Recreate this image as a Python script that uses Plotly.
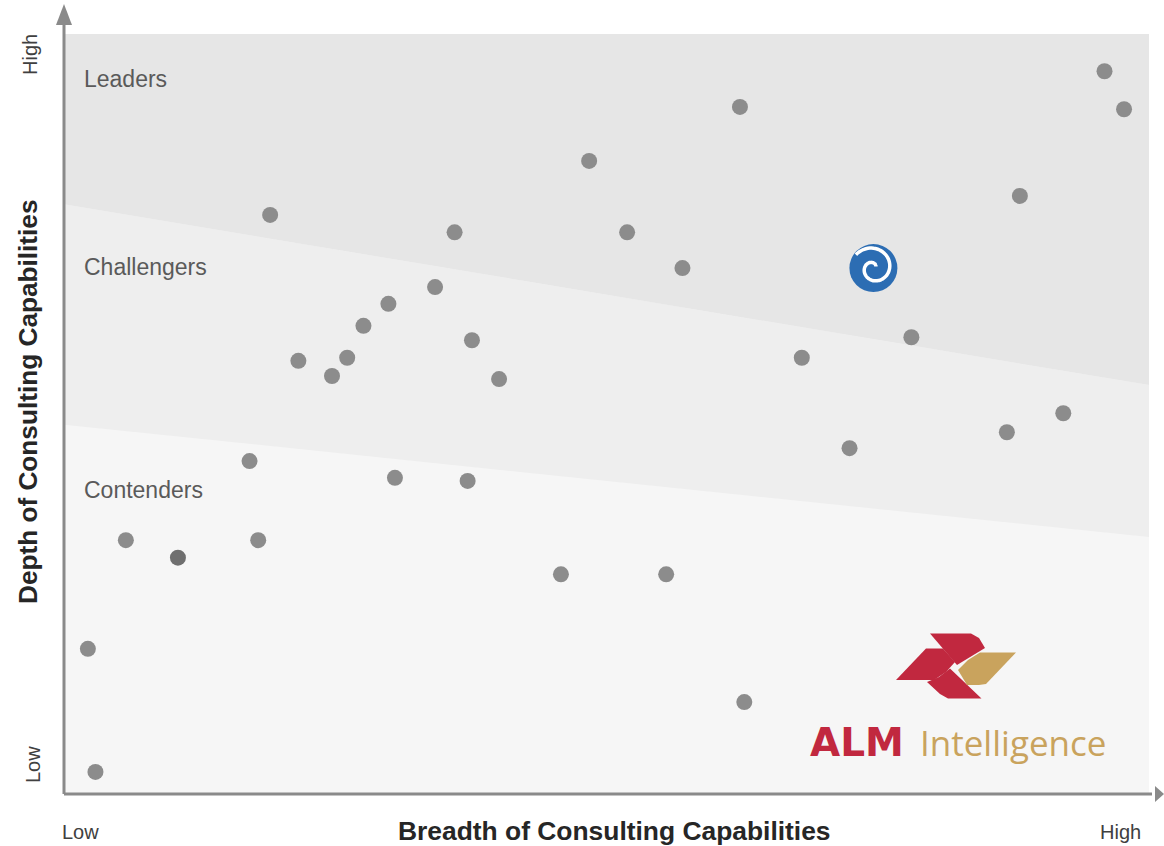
import numpy as np
import plotly.graph_objects as go

# ---- data (0-100 scale on both axes) ----
firm_x = [62.3, 95.9, 97.7, 48.4, 19.0, 36.0, 51.9, 57.0, 88.1, 34.2, 29.9, 27.6,
          37.6, 21.6, 26.1, 24.7, 40.1, 68.0, 78.1, 92.1, 86.9, 72.4, 17.1, 30.5,
          37.2, 5.7, 17.9, 45.8, 55.5, 2.2, 62.7, 2.9]
firm_y = [90.4, 95.1, 90.1, 83.3, 76.2, 73.9, 73.9, 69.2, 78.7, 66.7, 64.5, 61.6,
          59.7, 57.0, 57.4, 55.0, 54.6, 57.4, 60.1, 50.1, 47.6, 45.5, 43.8, 41.6,
          41.2, 33.4, 33.4, 28.9, 28.9, 19.1, 12.1, 2.9]
dark_x = [10.5]
dark_y = [31.1]
highlight_x = [74.6]
highlight_y = [69.2]

region_labels = ["Leaders", "Challengers", "Contenders"]
region_label_y = [94.1, 69.3, 40.0]
upper_boundary = [77.6, 53.8]   # y at x=0 and x=100
lower_boundary = [48.6, 33.8]

x_ticks = ["Low", "High"]
y_ticks = ["Low", "High"]
x_title = "Breadth of Consulting Capabilities"
y_title = "Depth of Consulting Capabilities"

# ---- geometry helpers ----
W, H = 1164, 846
L, R, T, B = 64, 15, 34, 52
PW, PH = W - L - R, H - T - B


def pp(x, y):
    """pixel -> paper"""
    return (x - L) / PW, (H - B - y) / PH


def path(points, close=True):
    s = ""
    for i, (x, y) in enumerate(points):
        px, py = pp(x, y)
        s += ("M" if i == 0 else "L") + f"{px:.5f},{py:.5f} "
    return s + ("Z" if close else "")


fig = go.Figure()

shapes = []
# background bands
shapes.append(dict(type="path", xref="x", yref="y", layer="below", line_width=0,
                   fillcolor="#eeeeee",
                   path=f"M0,{lower_boundary[0]} L100,{lower_boundary[1]} L100,{upper_boundary[1]} L0,{upper_boundary[0]} Z"))
shapes.append(dict(type="path", xref="x", yref="y", layer="below", line_width=0,
                   fillcolor="#e6e6e6",
                   path=f"M0,{upper_boundary[0]} L100,{upper_boundary[1]} L100,100 L0,100 Z"))

axis_col = "#8a8a8a"
# axes with arrows
shapes.append(dict(type="path", xref="paper", yref="paper", line=dict(color=axis_col, width=3),
                   path=path([(64, 794), (64, 20)], close=False)))
shapes.append(dict(type="path", xref="paper", yref="paper", line_width=0, fillcolor=axis_col,
                   path=path([(64, 4), (56, 25), (72, 25)])))
shapes.append(dict(type="path", xref="paper", yref="paper", line=dict(color=axis_col, width=3),
                   path=path([(64, 794), (1152, 794)], close=False)))
shapes.append(dict(type="path", xref="paper", yref="paper", line_width=0, fillcolor=axis_col,
                   path=path([(1164, 794), (1155, 786), (1155, 802)])))

# ALM logo mark
red, gold = "#c1283f", "#c9a35d"
shapes.append(dict(type="path", xref="paper", yref="paper", line_width=0, fillcolor=red,
                   path=path([(930, 633.5), (971, 633.5), (979, 638), (985, 648), (957, 665)])))
shapes.append(dict(type="path", xref="paper", yref="paper", line_width=0, fillcolor=red,
                   path=path([(896, 680), (926, 648.5), (943, 648.5), (955, 662), (946, 672), (934, 680)])))
shapes.append(dict(type="path", xref="paper", yref="paper", line_width=0, fillcolor=red,
                   path=path([(927, 682), (939, 677), (950, 668.5), (981.5, 698.5), (948, 698.5), (940, 694)])))
shapes.append(dict(type="path", xref="paper", yref="paper", line_width=0, fillcolor=gold,
                   path=path([(958, 670), (968, 660), (980, 652.5), (1016, 652.5), (986, 684), (979, 685), (967, 685)])))

fig.update_layout(shapes=shapes)

# data points
fig.add_trace(go.Scatter(x=firm_x, y=firm_y, mode="markers", hoverinfo="skip",
                         marker=dict(size=16, color="#8c8c8c", line_width=0)))
fig.add_trace(go.Scatter(x=dark_x, y=dark_y, mode="markers", hoverinfo="skip",
                         marker=dict(size=16, color="#6f6f6f", line_width=0)))
fig.add_trace(go.Scatter(x=highlight_x, y=highlight_y, mode="markers", hoverinfo="skip",
                         marker=dict(size=48, color="#2c6db3", line_width=0)))

# white swirl on the highlight icon (decorative)
cx = L + highlight_x[0] / 100 * PW
cy = T + (1 - highlight_y[0] / 100) * PH
t = np.linspace(0, 2.6 * np.pi, 90)
r = 3 + 19 * t / (2.6 * np.pi)
sx = cx + r * np.cos(t + 0.6)
sy = cy - r * np.sin(t + 0.6)
spx = [(a - L) / PW * 100 for a in sx]
spy = [(H - B - b) / PH * 100 for b in sy]
fig.add_trace(go.Scatter(x=spx, y=spy, mode="lines", hoverinfo="skip",
                         line=dict(color="white", width=3.5, shape="spline")))

ann = []
font = "Liberation Sans, Arial, sans-serif"
for lab, ly in zip(region_labels, region_label_y):
    ann.append(dict(x=1.7, y=ly, xref="x", yref="y", text=lab, showarrow=False,
                    xanchor="left", yanchor="middle",
                    font=dict(family=font, size=23, color="#5a5a5a")))


def add_text(text, px, py, size, color, family=font, angle=0, xanchor="center"):
    ax_, ay_ = pp(px, py)
    ann.append(dict(x=ax_, y=ay_, xref="paper", yref="paper", text=text, showarrow=False,
                    xanchor=xanchor, yanchor="middle", textangle=angle,
                    font=dict(family=family, size=size, color=color)))


add_text(f"<b>{x_title}</b>", 614, 831, 26.4, "#262626")
add_text(f"<b>{y_title}</b>", 28, 402, 26.2, "#262626", angle=-90)
for lab, (px, py) in zip(x_ticks, [(80, 832), (1120, 832)]):
    add_text(lab, px, py, 20, "#404040")
for lab, (px, py) in zip(y_ticks, [(33, 765), (30, 55)]):
    add_text(lab, px, py, 20, "#404040", angle=-90)

# ALM Intelligence wordmark
add_text("<b>ALM</b>", 857, 742, 39, red, family="DejaVu Sans")
add_text("Intelligence", 918, 742, 35, gold, family="Open Sans", xanchor="left")

fig.update_layout(
    width=W, height=H,
    margin=dict(l=L, r=R, t=T, b=B),
    plot_bgcolor="#f6f6f6", paper_bgcolor="white",
    showlegend=False,
    xaxis=dict(range=[0, 100], visible=False, fixedrange=True),
    yaxis=dict(range=[0, 100], visible=False, fixedrange=True),
    annotations=ann,
)

fig.write_html("out.html", config={"displayModeBar": False},
               post_script="document.body.style.margin='0';document.body.style.padding='0';")
